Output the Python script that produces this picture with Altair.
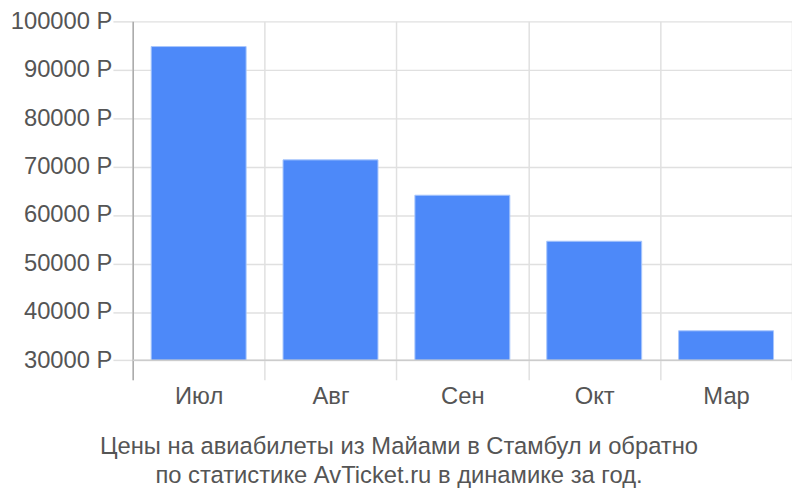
import altair as alt
import pandas as pd

months = ["Июл", "Авг", "Сен", "Окт", "Мар"]
prices = [94800, 71400, 64100, 54600, 36100]
baseline = 30000
tick_values = [30000, 40000, 50000, 60000, 70000, 80000, 90000, 100000]
caption = [
    "Цены на авиабилеты из Майами в Стамбул и обратно",
    "по статистике AvTicket.ru в динамике за год.",
]

df = pd.DataFrame({"month": months, "price": prices, "base": [baseline] * len(months)})
base_df = pd.DataFrame({"v": [baseline]})

FONT = "Liberation Sans"
FS = 24

x = alt.X(
    "month:N",
    sort=months,
    scale=alt.Scale(paddingInner=0, paddingOuter=0),
    axis=alt.Axis(
        title=None, labelAngle=0, tickBand="extent", grid=True,
        gridColor="#e0e0e0", gridWidth=1.5, ticks=False, domain=False,
        labelFontSize=FS, labelColor="#555555", labelPadding=5, labelFont=FONT,
    ),
)
y = alt.Y(
    "price:Q",
    scale=alt.Scale(domain=[26000, 100000], nice=False, zero=False),
    axis=alt.Axis(
        values=tick_values, title=None, format="d",
        labelExpr="datum.label + ' Р'", labelFontSize=FS, labelColor="#555555",
        labelFont=FONT, labelPadding=1, tickSize=20, tickColor="#e0e0e0",
        tickWidth=1.5, gridColor="#e0e0e0", gridWidth=1.5,
        domainColor="#aaaaaa", domainWidth=1.5,
    ),
)

bars = alt.Chart(df).mark_bar(
    color="#4d89f9", stroke="#a8c6fc", strokeWidth=1,
    width=alt.RelativeBandSize(0.72),
).encode(x=x, y=y, y2="base:Q")
rule = alt.Chart(base_df).mark_rule(color="#cccccc", strokeWidth=1.5).encode(y="v:Q")

chart = (
    alt.layer(bars, rule)
    .properties(
        width=666,
        height=362,
        title=alt.TitleParams(
            caption, orient="bottom", anchor="middle", fontSize=FS,
            fontWeight="normal", color="#555555", lineHeight=29, offset=27,
            font=FONT, dx=-64,
        ),
        autosize=alt.AutoSizeParams(type="none"),
        padding={"left": 126, "top": 11, "right": 0, "bottom": 119},
    )
    .configure_view(stroke=None)
)

chart.save("out.html", embed_options={"renderer": "svg", "actions": False})
